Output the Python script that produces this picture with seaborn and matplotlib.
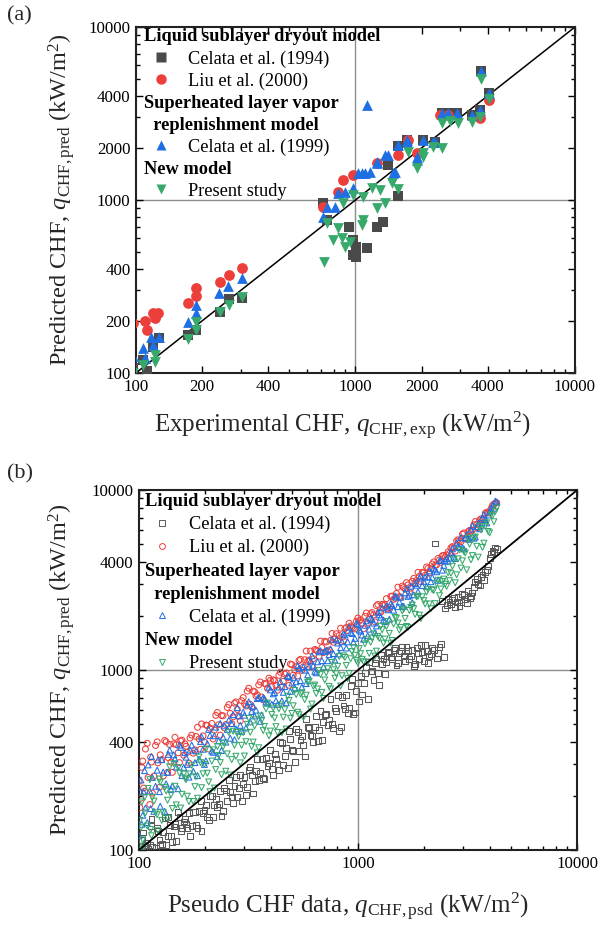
import numpy as np
import pandas as pd
import matplotlib
matplotlib.use("Agg")
import matplotlib.pyplot as plt
import seaborn as sns
from matplotlib.lines import Line2D
from matplotlib.ticker import FixedLocator, NullFormatter

# ---------------- panel (a): experimental CHF data ----------------
a_c94_x = [97, 108, 112, 127, 120, 173, 188, 241, 265, 304,
           711, 741, 934, 975, 1002, 1125, 975, 1002, 1253, 1334, 1563,
           1406, 1563, 1711, 2030, 2303, 2471, 2638, 2892, 3384, 3692, 3718, 4056]
a_c94_y = [107, 119, 102, 159, 142, 166, 177, 226, 268, 271,
           960, 765, 700, 587, 537, 528, 481, 470, 698, 749, 1060,
           1600, 2040, 2230, 2230, 2170, 3190, 3190, 3190, 3120, 3330, 5590, 4170]

a_liu_x = [97, 110, 112, 120, 126, 122, 173, 187, 187, 241, 265, 304,
           711, 832, 877, 975, 1250, 1563, 1735, 1900, 2427, 2638, 3692, 4056]
a_liu_y = [195, 200, 177, 223, 223, 208, 255, 310, 280, 337, 368, 404,
           914, 1117, 1305, 1395, 1636, 1820, 2222, 1869, 3099, 3099, 2978, 3785]

a_c99_x = [97, 108, 117, 127, 120, 110, 173, 187, 187, 239, 262, 304,
           711, 741, 806, 832, 896, 975, 1026, 1067, 1105, 1164, 1250, 1250,
           1362, 1406, 1482, 1513, 1563, 1711, 1711, 1900, 1900, 2030, 2254, 2303, 1125,
           2471, 2638, 2892, 3384, 3692, 3718, 4056]
a_c99_y = [125, 140, 162, 162, 145, 122, 198, 247, 222, 290, 320, 354,
           800, 914, 914, 1097, 1117, 1173, 1432, 1432, 1432, 1458, 1636, 1660,
           1820, 1820, 1432, 1458, 2079, 2172, 2222, 1779, 1703, 2222, 2172, 2172, 3540,
           3197, 3197, 3197, 3099, 3313, 5590, 4170]

a_new_x = [97, 108, 110, 122, 122, 173, 188, 188, 241, 265, 304,
           718, 741, 790, 832, 865, 896, 944, 975, 1067, 1082, 1082, 1185, 1250,
           1293, 1362, 1462, 1563, 1735, 1900, 2030, 2030, 2254, 2471,
           2471, 2697, 2931, 3384, 3692, 3718, 4056, 877]
a_new_y = [100, 111, 91, 127, 115, 157, 198, 177, 226, 247, 276,
           440, 735, 587, 689, 603, 537, 574, 1069, 717, 766, 1045, 1173, 899,
           1142, 964, 1254, 1158, 1900, 1525, 1869, 1779, 2025, 1990,
           2797, 2866, 2786, 2836, 3018, 4990, 3836, 964]

# ---------------- panel (b): pseudo CHF data (two sampled batches) ----------------
b_x = [100, 101, 104, 106, 109, 112, 114, 117, 121, 124,
       127, 131, 135, 138, 142, 146, 151, 155, 160, 164,
       169, 174, 180, 185, 191, 196, 202, 208, 215, 221,
       228, 235, 242, 249, 257, 265, 273, 281, 290, 299,
       308, 317, 327, 337, 347, 358, 369, 380, 392, 404,
       416, 429, 442, 456, 470, 484, 499, 514, 530, 546,
       563, 580, 598, 616, 635, 654, 674, 695, 716, 738,
       761, 784, 808, 833, 858, 884, 911, 939, 968, 998,
       1028, 1060, 1092, 1125, 1160, 1195, 1232, 1270, 1308, 1348,
       1390, 1432, 1476, 1521, 1568, 1616, 1665, 1716, 1769, 1823,
       1879, 1936, 1995, 2056, 2119, 2184, 2251, 2320, 2391, 2464,
       2539, 2617, 2697, 2779, 2864, 2952, 3042, 3135, 3231, 3330,
       3432, 3537, 3645, 3756, 3871, 3990, 4112, 4238]

b_c94_y = [105, 91, 125, 90, 109, 106, 148, 94, 133, 114,
           108, 151, 119, 138, 111, 139, 163, 127, 144, 139,
           161, 136, 162, 133, 187, 161, 178, 146, 200, 177,
           173, 212, 165, 214, 244, 196, 227, 197, 261, 233,
           203, 279, 262, 243, 319, 269, 251, 323, 306, 283,
           341, 300, 398, 296, 367, 460, 359, 308, 451, 410,
           383, 534, 478, 431, 483, 405, 593, 514, 573, 531,
           502, 612, 727, 483, 635, 725, 619, 892, 581, 848,
           925, 848, 1037, 1103, 986, 1099, 961, 1219, 1151, 1105,
           1250, 1150, 1320, 1100, 1280, 1200, 1350, 1150, 1300, 1080,
           1250, 1380, 1120, 1270, 1200, 1330, 5050, 1250, 1400, 1180,
           2300, 2380, 2450, 2250, 2550, 2400, 2600, 2350, 2500, 2700,
           3100, 3000, 3300, 3150, 3600, 4200, 4600, 4800]

b_liu_y = [240, 172, 312, 212, 392, 179, 308, 257, 399, 223,
           318, 406, 270, 386, 270, 423, 347, 403, 336, 377,
           304, 435, 360, 481, 363, 431, 495, 364, 505, 464,
           581, 435, 557, 498, 643, 504, 655, 604, 522, 703,
           631, 793, 621, 758, 729, 859, 683, 836, 902, 808,
           874, 772, 972, 866, 964, 823, 1073, 1002, 928, 1147,
           1042, 1276, 1136, 1047, 1302, 1275, 1449, 1251, 1432, 1292,
           1598, 1490, 1454, 1708, 1459, 1724, 1822, 1737, 1694, 1946,
           1902, 1696, 2075, 1913, 2088, 1852, 2316, 2096, 2289, 2494,
           2224, 2578, 2509, 2890, 2540, 2876, 3064, 2711, 3113, 3063,
           3495, 3098, 3471, 3742, 3475, 3888, 3827, 4176, 3969, 4337,
           4367, 4449, 4855, 4585, 5298, 5166, 5780, 5330, 5977, 5994,
           6692, 6190, 6926, 6949, 7548, 7581, 8224, 8476]

b_c99_y = [120, 212, 156, 276, 142, 213, 331, 164, 278, 211,
           318, 164, 270, 359, 227, 321, 219, 372, 288, 328,
           254, 383, 306, 259, 401, 363, 313, 468, 355, 431,
           331, 505, 424, 398, 527, 504, 410, 618, 493, 583,
           477, 666, 589, 556, 694, 519, 701, 665, 804, 646,
           749, 644, 862, 752, 658, 920, 848, 797, 1060, 874,
           1042, 841, 1047, 1201, 984, 1112, 1281, 1043, 1289, 1218,
           1484, 1137, 1414, 1333, 1587, 1326, 1731, 1596, 1500, 1796,
           1645, 1484, 1878, 1688, 1914, 1613, 2094, 1969, 1897, 2265,
           1918, 2291, 2583, 2251, 2540, 2262, 2831, 2608, 2370, 3026,
           2725, 3330, 3112, 2920, 3560, 3276, 3602, 3155, 4065, 3819,
           4164, 4187, 4720, 4169, 4869, 5461, 4715, 5643, 5331, 6327,
           5491, 6543, 6379, 7324, 6581, 7581, 8224, 8688]

b_new_y = [100, 146, 114, 196, 136, 246, 120, 187, 157, 248,
           146, 223, 189, 290, 170, 226, 287, 171, 264, 246,
           186, 296, 225, 194, 306, 265, 364, 239, 312, 221,
           376, 306, 375, 274, 450, 318, 382, 450, 305, 449,
           400, 539, 376, 489, 347, 555, 461, 608, 431, 566,
           541, 450, 641, 547, 470, 678, 574, 771, 583, 737,
           546, 725, 867, 647, 826, 785, 944, 695, 967, 812,
           1103, 902, 1050, 816, 1201, 1061, 957, 1268, 1210, 1098,
           1234, 1113, 1474, 1238, 1508, 1195, 1540, 1753, 1413, 1752,
           1599, 1461, 1963, 1825, 1725, 2182, 1748, 2145, 2300, 2042,
           2574, 1936, 2434, 2714, 2331, 2796, 2341, 3155, 2821, 3203,
           2920, 3140, 3776, 3057, 4153, 3690, 4563, 3605, 5008, 4329,
           5491, 4244, 6014, 5071, 6581, 5786, 7196, 7628]

b_x2 = [102, 103, 105, 107, 110, 113, 115, 119, 122, 125,
        129, 133, 136, 140, 144, 148, 153, 157, 162, 166,
        171, 177, 182, 188, 193, 199, 205, 211, 218, 224,
        231, 238, 245, 253, 261, 269, 277, 285, 294, 303,
        312, 322, 332, 342, 352, 363, 374, 386, 398, 410,
        422, 435, 449, 463, 477, 491, 506, 522, 538, 554,
        571, 589, 607, 625, 644, 664, 684, 705, 727, 749,
        772, 796, 820, 845, 871, 897, 925, 953, 983, 1013,
        1044, 1076, 1108, 1142, 1177, 1213, 1251, 1289, 1328, 1369,
        1411, 1454, 1498, 1544, 1592, 1640, 1690, 1742, 1796, 1851,
        1907, 1965, 2025, 2087, 2151, 2217, 2285, 2355, 2427, 2501,
        2578, 2657, 2738, 2821, 2908, 2997, 3088, 3183, 3280, 3380,
        3484, 3590, 3700, 3813, 3930, 4050, 4174, 4300]

b_c94_y2 = [97, 113, 101, 107, 101, 136, 104, 102, 128, 106,
            126, 106, 152, 120, 135, 112, 153, 132, 149, 133,
            120, 163, 138, 165, 127, 167, 152, 200, 153, 193,
            180, 155, 221, 187, 209, 183, 255, 222, 188, 255,
            225, 290, 206, 274, 246, 319, 247, 293, 358, 262,
            321, 278, 395, 333, 286, 412, 354, 470, 355, 432,
            331, 483, 437, 400, 554, 465, 410, 564, 494, 689,
            479, 589, 459, 710, 610, 574, 814, 572, 767, 669,
            731, 968, 687, 982, 883, 1152, 826, 1083, 956, 1259,
            1180, 1300, 1060, 1240, 1350, 1120, 1280, 1200, 1050, 1320,
            1150, 1260, 1380, 1100, 1230, 1300, 1160, 1350, 2420, 2200,
            2480, 2320, 2520, 2400, 2280, 2650, 2480, 2750, 2580, 2900,
            3200, 2950, 3400, 3500, 3800, 4400, 4550, 4700]

b_liu_y2 = [194, 288, 221, 364, 253, 328, 207, 381, 305, 338,
            258, 399, 326, 308, 389, 385, 306, 408, 389, 349,
            419, 345, 428, 414, 502, 398, 492, 475, 414, 560,
            497, 559, 478, 620, 574, 551, 665, 556, 676, 651,
            764, 644, 764, 718, 827, 708, 842, 791, 876, 882,
            823, 935, 808, 949, 906, 1080, 936, 1044, 1130, 997,
            1142, 1119, 1275, 1156, 1288, 1195, 1334, 1445, 1272, 1461,
            1428, 1592, 1558, 1521, 1698, 1659, 1758, 1715, 1868, 1874,
            1827, 1991, 1828, 2056, 2024, 2280, 2102, 2320, 2311, 2190,
            2568, 2472, 2666, 2563, 2929, 2821, 2974, 2857, 3233, 3147,
            3318, 3498, 3362, 3673, 3657, 3991, 3839, 4098, 4320, 4252,
            4537, 4783, 4792, 5219, 5234, 5694, 5404, 5889, 5904, 6422,
            6445, 6821, 6845, 7435, 7467, 7898, 8348, 8514]

b_c99_y2 = [245, 139, 210, 171, 297, 170, 253, 226, 317, 175,
            271, 233, 340, 217, 338, 289, 383, 259, 348, 299,
            359, 274, 355, 320, 425, 299, 390, 433, 349, 482,
            404, 357, 490, 468, 418, 565, 471, 556, 456, 561,
            640, 515, 631, 599, 704, 563, 692, 656, 776, 738,
            675, 805, 674, 810, 930, 761, 911, 861, 1022, 803,
            999, 942, 1123, 1063, 966, 1262, 1129, 1269, 1127, 1311,
            1235, 1473, 1230, 1437, 1568, 1435, 1619, 1430, 1819, 1671,
            1566, 1775, 1551, 1941, 1824, 1759, 2027, 2217, 1859, 2163,
            2342, 2152, 2547, 2393, 2261, 2690, 2569, 2927, 2622, 2962,
            3242, 2948, 3281, 3297, 3097, 3680, 3519, 4051, 3592, 4052,
            4022, 4517, 4244, 5078, 4798, 4795, 5404, 5411, 6068, 5408,
            6271, 6103, 7030, 6863, 7271, 7898, 7931, 8600]

b_new_y2 = [133, 185, 105, 161, 220, 130, 196, 161, 128, 238,
            161, 213, 150, 203, 302, 178, 268, 204, 251, 199,
            265, 186, 255, 329, 222, 299, 267, 211, 360, 280,
            335, 262, 392, 342, 261, 457, 332, 428, 382, 333,
            499, 451, 398, 530, 370, 526, 486, 656, 458, 615,
            485, 609, 449, 602, 716, 540, 633, 731, 565, 748,
            685, 854, 607, 813, 741, 996, 752, 881, 1018, 786,
            1004, 955, 1189, 930, 1176, 897, 1156, 1334, 1130, 1317,
            1148, 1399, 1108, 1428, 1589, 1274, 1501, 1676, 1487, 1862,
            1411, 1803, 1947, 1668, 2133, 1935, 1724, 2230, 2191, 2554,
            2021, 2555, 2329, 2817, 2194, 2771, 3016, 2591, 3107, 3001,
            3480, 3454, 4107, 3385, 4653, 4046, 4478, 5411, 4100, 5408,
            4878, 6283, 4810, 6291, 5895, 7290, 6678, 7955]

# tick labels
a_ticks = [100, 200, 400, 1000, 2000, 4000, 10000]
b_yticks = [100, 400, 1000, 4000, 10000]
b_xticks = [100, 1000, 10000]

series_names = ["Celata et al. (1994)", "Liu et al. (2000)",
                "Celata et al. (1999)", "Present study"]
headings = ["Liquid sublayer dryout model", "Superheated layer vapor",
            "  replenishment model", "New model"]

colors = ["#4a4a4a", "#ec3f3b", "#1e6fe3", "#36a96b"]
markers = ["s", "o", "^", "v"]

sns.set_theme(style="ticks")
plt.rcParams["font.family"] = ["Liberation Serif", "DejaVu Serif"]
plt.rcParams["mathtext.fontset"] = "custom"
plt.rcParams["mathtext.rm"] = "Liberation Serif"
plt.rcParams["mathtext.it"] = "Liberation Serif:italic"

fig = plt.figure(figsize=(6.01, 9.25), dpi=100)
ax_a = fig.add_axes([0.2263, 0.5968, 0.7304, 0.374])
ax_b = fig.add_axes([0.2313, 0.0811, 0.7288, 0.389])

minor_all = [m * 10 ** e for e in (2, 3) for m in range(2, 10)]


def style_axes(ax, xt, yt):
    ax.set_xscale("log")
    ax.set_yscale("log")
    ax.set_xlim(100, 10000)
    ax.set_ylim(100, 10000)
    ax.xaxis.set_major_locator(FixedLocator(xt))
    ax.yaxis.set_major_locator(FixedLocator(yt))
    ax.xaxis.set_minor_locator(FixedLocator([v for v in minor_all if v not in xt]))
    ax.yaxis.set_minor_locator(FixedLocator([v for v in minor_all if v not in yt]))
    ax.xaxis.set_minor_formatter(NullFormatter())
    ax.yaxis.set_minor_formatter(NullFormatter())
    ax.set_xticklabels([str(v) for v in xt])
    ax.set_yticklabels([str(v) for v in yt])
    ax.tick_params(which="both", direction="in", top=True, right=True,
                   labelsize=12.2, colors="black", width=1)
    ax.tick_params(which="major", length=5, pad=4)
    ax.tick_params(which="minor", length=3)
    for s in ax.spines.values():
        s.set_linewidth(1.5)
        s.set_color("#222222")
    ax.axvline(1000, color="#8c8c8c", lw=1, zorder=0)
    ax.axhline(1000, color="#8c8c8c", lw=1, zorder=0)


def add_legend(ax, handles, spacing, anchor):
    blank = [Line2D([], [], linestyle="none") for _ in range(4)]
    hs = [blank[0], handles[0], handles[1], blank[1], blank[2], handles[2], blank[3], handles[3]]
    labs = [headings[0], series_names[0], series_names[1], headings[1], headings[2],
            series_names[2], headings[3], series_names[3]]
    is_head = [True, False, False, True, True, False, True, False]
    leg = ax.legend(hs, labs, loc="upper left", bbox_to_anchor=anchor, frameon=False,
                    fontsize=13.2, handlelength=1.9, handletextpad=0.5,
                    labelspacing=spacing, borderaxespad=0.0, borderpad=0.2)
    for t, h in zip(leg.get_texts(), is_head):
        t.set_color("black")
        if h:
            t.set_fontweight("bold")
    rows = leg._legend_handle_box.get_children()[0].get_children()
    for row, h in zip(rows, is_head):
        if h:
            row.get_children()[0].width = 0
            row.sep = 0
    return leg


ylab = r"Predicted CHF, $q_\mathrm{CHF,pred}$ (kW/m$^\mathrm{2}$)"

# ---- panel (a)
style_axes(ax_a, a_ticks, a_ticks)
ax_a.plot([100, 10000], [100, 10000], color="black", lw=1.1, zorder=1)
a_sets = [(a_c94_x, a_c94_y), (a_liu_x, a_liu_y), (a_c99_x, a_c99_y), (a_new_x, a_new_y)]
for (xs, ys), c, m in zip(a_sets, colors, markers):
    sns.scatterplot(x=xs, y=ys, ax=ax_a, color=c, marker=m, s=60,
                    linewidth=0, zorder=3)
ax_a.set_xlabel(r"Experimental CHF, $q_\mathrm{CHF,exp}$ (kW/m$^\mathrm{2}$)", fontsize=18)
ax_a.set_ylabel(ylab, fontsize=17.5)
ax_a.xaxis.set_label_coords(0.47, -0.105)
ax_a.yaxis.set_label_coords(-0.134, 0.5)
hand_a = [Line2D([], [], marker=m, color=c, linestyle="none", markersize=7.5, mec="none")
          for c, m in zip(colors, markers)]
add_legend(ax_a, hand_a, 0.27, (0.009, 1.007))

# ---- panel (b)
style_axes(ax_b, b_xticks, b_yticks)
b_sets = [(b_c94_y, b_c94_y2), (b_liu_y, b_liu_y2), (b_c99_y, b_c99_y2), (b_new_y, b_new_y2)]
b_cols = ["#5a5a5a", "#ec3f3b", "#1e6fe3", "#36a96b"]
for (ys1, ys2), c, m in zip(b_sets, b_cols, markers):
    sns.scatterplot(x=b_x + b_x2, y=ys1 + ys2, ax=ax_b, color=c, marker=m, s=18,
                    facecolor="none", edgecolor=c, linewidth=0.75, zorder=3)
ax_b.plot([100, 10000], [100, 10000], color="black", lw=1.3, zorder=4)
ax_b.set_xlabel(r"Pseudo CHF data, $q_\mathrm{CHF,psd}$ (kW/m$^\mathrm{2}$)", fontsize=18)
ax_b.set_ylabel(ylab, fontsize=17.5)
ax_b.xaxis.set_label_coords(0.477, -0.112)
ax_b.yaxis.set_label_coords(-0.142, 0.5)
hand_b = [Line2D([], [], marker=m, color=c, linestyle="none", markersize=4.2,
                 mfc="none", mec=c, mew=0.7) for c, m in zip(b_cols, markers)]
add_legend(ax_b, hand_b, 0.33, (0.005, 1.003))

fig.text(0.012, 0.993, "(a)", fontsize=16, va="top", ha="left")
fig.text(0.012, 0.498, "(b)", fontsize=16, va="top", ha="left")

fig.savefig("out.png", dpi=100)
